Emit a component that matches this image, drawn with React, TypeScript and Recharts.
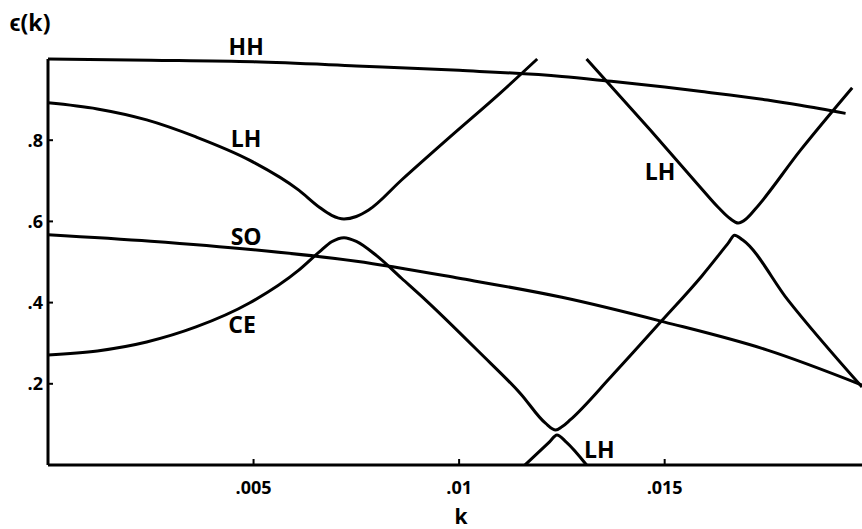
import { LineChart, Line, XAxis, YAxis, ReferenceDot } from "recharts";

// energy bands eps(k) as [k, eps]
const hhBand = [
  [0, 1.0], [0.0025, 0.997], [0.005, 0.993], [0.0075, 0.983], [0.01, 0.972],
  [0.0125, 0.957], [0.0136, 0.946], [0.015, 0.931], [0.0159, 0.92],
  [0.0175, 0.899], [0.0183, 0.886], [0.0194, 0.866],
];

const soBand = [
  [0, 0.567], [0.0025, 0.551], [0.005, 0.53], [0.0075, 0.502], [0.01, 0.46],
  [0.0125, 0.413], [0.015, 0.352], [0.0175, 0.283], [0.0198, 0.197],
];

const lhUpper = [
  [0, 0.892], [0.0012, 0.877], [0.0024, 0.85], [0.0036, 0.808], [0.0049, 0.751],
  [0.0061, 0.677], [0.0066, 0.635], [0.0069, 0.615], [0.0072, 0.606],
  [0.0075, 0.612], [0.0078, 0.628], [0.0086, 0.702], [0.0098, 0.81],
  [0.011, 0.916], [0.0119, 1.0],
];

const ceBand = [
  [0, 0.271], [0.0012, 0.281], [0.0024, 0.303], [0.0036, 0.34], [0.0049, 0.399],
  [0.0061, 0.48], [0.0066, 0.525], [0.0069, 0.55], [0.0072, 0.56], [0.0075, 0.551],
  [0.008, 0.515], [0.0086, 0.46], [0.0092, 0.405], [0.0105, 0.277],
  [0.0115, 0.175], [0.0121, 0.103], [0.01235, 0.086], [0.0125, 0.094],
  [0.0127, 0.111], [0.0137, 0.218], [0.0149, 0.352], [0.0159, 0.465],
  [0.01655, 0.547], [0.0167, 0.566], [0.0169, 0.554], [0.018, 0.406],
  [0.0198, 0.192],
];

const lhRight = [
  [0.0131, 1.0], [0.01465, 0.825], [0.01586, 0.685], [0.0163, 0.635],
  [0.01659, 0.607], [0.01679, 0.596], [0.01698, 0.606], [0.0172, 0.63],
  [0.0183, 0.775], [0.01956, 0.929],
];

const lhBottom = [
  [0.0116, 0], [0.0122, 0.057], [0.01238, 0.074], [0.0126, 0.057], [0.0131, 0],
];

const bands = [hhBand, soBand, lhUpper, ceBand, lhRight, lhBottom];

const xTicks = [0.005, 0.01, 0.015];
const yTicks = [0.2, 0.4, 0.6, 0.8, 1];

const curveLabels = [
  { text: "HH", k: 0.00482, e: 1.03 },
  { text: "LH", k: 0.00482, e: 0.803 },
  { text: "SO", k: 0.00482, e: 0.562 },
  { text: "CE", k: 0.00472, e: 0.345 },
  { text: "LH", k: 0.01489, e: 0.722 },
  { text: "LH", k: 0.01341, e: 0.037 },
];

const FONT = '"Open Sans", sans-serif';

const toRows = (pts: number[][]) => pts.map(([k, e]) => ({ k, e }));

// ".2", ".005" style labels, nothing at the top tick
const fmt = (v: number) => (v >= 1 ? "" : String(v).replace(/^0/, ""));

export default function App() {
  return (
    <div style={{ position: "absolute", left: 0, top: 0, background: "#fff" }}>
      <LineChart
        width={862}
        height={529}
        margin={{ top: 59, right: 0, bottom: 0, left: 0 }}
        style={{ fontFamily: FONT }}
      >
        <XAxis
          dataKey="k"
          type="number"
          domain={[0, 0.0198]}
          ticks={xTicks}
          tickFormatter={fmt}
          height={64}
          tickSize={-6}
          tickMargin={22}
          axisLine={{ stroke: "#000", strokeWidth: 3 }}
          tickLine={{ stroke: "#000", strokeWidth: 2 }}
          tick={{ fill: "#000", fontSize: 18, fontWeight: 700, fontFamily: FONT }}
          label={{
            value: "k",
            position: "insideBottom",
            offset: 5,
            dx: 6,
            fill: "#000",
            fontSize: 21,
            fontWeight: 700,
            fontFamily: FONT,
          }}
        />
        <YAxis
          type="number"
          domain={[0, 1]}
          ticks={yTicks}
          tickFormatter={fmt}
          width={48}
          tickSize={-5}
          tickMargin={10}
          axisLine={{ stroke: "#000", strokeWidth: 3 }}
          tickLine={{ stroke: "#000", strokeWidth: 2 }}
          tick={{ fill: "#000", fontSize: 18, fontWeight: 700, fontFamily: FONT }}
          label={{
            value: "ϵ(k)",
            position: "top",
            offset: 28,
            dx: 6,
            fill: "#000",
            fontSize: 23,
            fontWeight: 700,
            fontFamily: FONT,
          }}
        />
        {bands.map((band, i) => (
          <Line
            key={i}
            data={toRows(band)}
            dataKey="e"
            type="monotone"
            stroke="#000"
            strokeWidth={3}
            dot={false}
            activeDot={false}
            isAnimationActive={false}
          />
        ))}
        {curveLabels.map((c, i) => (
          <ReferenceDot
            key={i}
            x={c.k}
            y={c.e}
            r={0}
            fill="none"
            stroke="none"
            ifOverflow="visible"
            label={{
              value: c.text,
              position: "center",
              fill: "#000",
              fontSize: 23,
              fontWeight: 700,
              fontFamily: FONT,
            }}
          />
        ))}
      </LineChart>
    </div>
  );
}
